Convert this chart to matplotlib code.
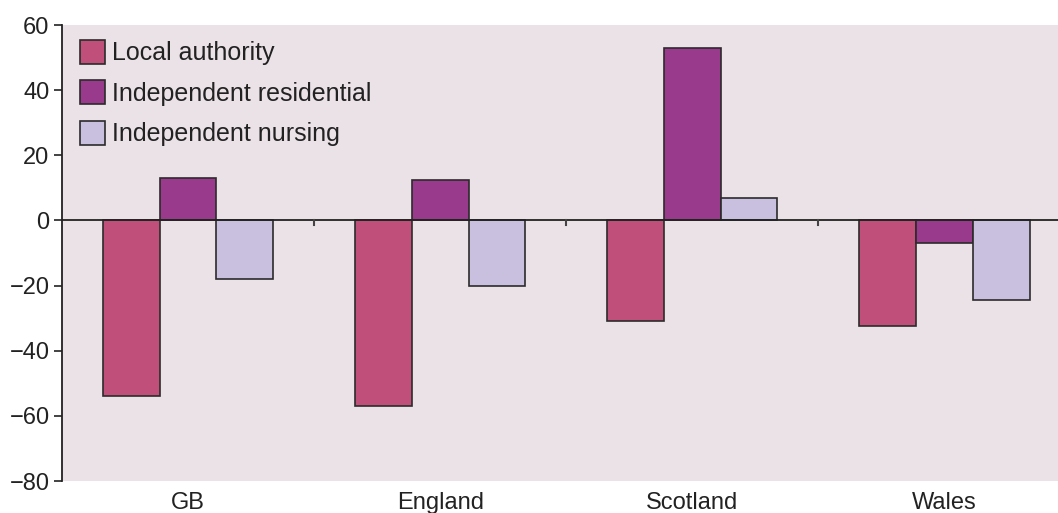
import matplotlib.pyplot as plt
import numpy as np
from matplotlib.patches import Patch

plt.rcParams["font.family"] = ["Liberation Sans", "DejaVu Sans"]

countries = ["GB", "England", "Scotland", "Wales"]
series = ["Local authority", "Independent residential", "Independent nursing"]
local_authority = [-54, -57, -31, -32.5]
indep_residential = [13, 12.5, 53, -7]
indep_nursing = [-18, -20, 7, -24.5]
yticks = [-80, -60, -40, -20, 0, 20, 40, 60]

colors = ["#C0507A", "#9A3A8C", "#C9BFDF"]
edge = "#2b2b2b"
bg = "#EBE2E8"

fig = plt.figure(figsize=(10.58, 5.13), dpi=100)
ax = fig.add_axes([62 / 1058, 32 / 513, 1 - 62 / 1058, 456 / 513])
ax.set_facecolor(bg)

x = np.arange(len(countries))
w = 0.225
for i, vals in enumerate([local_authority, indep_residential, indep_nursing]):
    ax.bar(x + (i - 1) * w, vals, width=w, color=colors[i], edgecolor=edge,
           linewidth=1.2, zorder=3)

ax.axhline(0, color="#222222", linewidth=1.3, zorder=4)
# small ticks between categories on the zero line
for b in x[:-1] + 0.5:
    ax.plot([b, b], [0, -1.3], color="#444444", linewidth=1.5, zorder=4)

ax.set_xlim(-0.5, 3.45)
ax.set_ylim(-80, 60)
ax.set_yticks(yticks)
ax.set_yticklabels([str(v).replace("-", "\u2212") for v in yticks], fontsize=17,
                   color="#222222")
ax.set_xticks(x)
ax.set_xticklabels(countries, fontsize=17, color="#222222")
ax.tick_params(axis="x", length=0, pad=8)
ax.tick_params(axis="y", length=6, width=1.2, color="#222222", pad=3)

for s in ["top", "right", "bottom"]:
    ax.spines[s].set_visible(False)
ax.spines["left"].set_color("#222222")
ax.spines["left"].set_linewidth(1.3)

handles = [Patch(facecolor=c, edgecolor=edge, linewidth=1.2) for c in colors]
leg = ax.legend(handles, series, loc="upper left", frameon=False, fontsize=18,
                handlelength=1.0, handleheight=1.1, handletextpad=0.3,
                labelspacing=0.6, borderaxespad=0.3, bbox_to_anchor=(0.0, 1.006))
for t in leg.get_texts():
    t.set_color("#222222")

fig.savefig("out.png", dpi=100, facecolor="white")
